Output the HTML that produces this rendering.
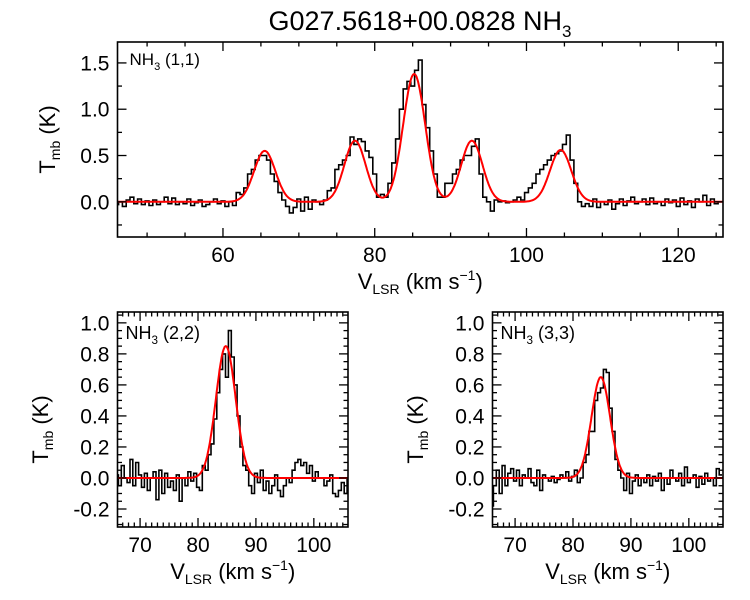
<!DOCTYPE html>
<html><head><meta charset="utf-8"><style>
body{margin:0;background:#fff;}
svg{display:block;font-family:"Liberation Sans",sans-serif;}
</style></head><body>
<svg id="chart" width="750" height="600" viewBox="0 0 750 600">
<text x="420" y="30" font-size="27" text-anchor="middle">G027.5618+00.0828 NH<tspan font-size="17" dy="7">3</tspan></text>
</svg>
<script>
// ---- Data ----
const topStart = 46.0, topStep = 0.5;
const topValues = [
-0.03,0.0,-0.05,0.02,0.05,-0.02,0.03,-0.03,0.01,-0.04,0.02,-0.03,0.0,0.05,-0.02,0.04,-0.03,0.0,-0.02,0.03,-0.04,-0.01,0.02,-0.05,-0.03,0.0,0.03,-0.02,0.01,-0.05,0.0,-0.04,
0.1,0.08,0.15,0.3,0.35,0.45,0.5,0.5,0.45,0.3,0.22,0.1,0.02,-0.05,-0.12,-0.06,
0.03,-0.1,0.05,-0.08,0.02,0.0,-0.03,0.02,
0.12,0.15,0.35,0.4,0.45,0.5,0.7,0.62,0.68,0.65,0.55,0.48,0.3,0.05,
0.08,0.05,0.2,0.42,0.68,1.0,1.22,1.3,1.25,1.42,1.53,1.05,0.8,0.55,0.3,0.05,
0.05,0.2,0.2,0.3,0.35,0.45,0.5,0.5,0.6,0.68,0.3,0.05,0.0,-0.1,
0.02,0.0,0.01,-0.01,0.0,0.02,0.05,0.02,0.1,0.15,0.2,0.3,
0.35,0.4,0.45,0.5,0.52,0.55,0.62,0.72,0.45,0.2,0.0,-0.05,
-0.02,-0.05,0.03,-0.06,0.0,-0.03,0.02,-0.08,-0.02,0.03,-0.04,0.01,0.05,-0.02,0.0,0.03,-0.03,0.04,-0.02,0.0,-0.04,0.03,-0.01,0.02,-0.05,0.04,-0.03,0.01,-0.06,0.03,0.0,0.07,-0.04,0.03,-0.02,0.0
];
const topFitCenters = [65.5, 77.4, 85.2, 92.8, 104.5];
const topFitAmps = [0.55, 0.66, 1.38, 0.66, 0.56];
const topFitSigmas = [1.4, 1.4, 1.45, 1.4, 1.4];

const midStart = 66.0, midStep = 0.5;
const midValues = [
0.02,-0.05,0.08,0.0,-0.03,0.12,-0.05,0.1,0.02,-0.06,0.03,-0.08,0.0,0.04,-0.14,0.05,-0.1,0.03,-0.06,-0.02,
-0.08,0.02,-0.15,0.0,-0.05,0.04,-0.02,0.03,-0.06,-0.08,0.08,0.05,0.15,0.22,0.38,0.55,0.7,0.8,0.65,0.95,0.78,0.6,0.4,
0.2,0.08,0.05,-0.05,-0.1,0.03,-0.03,0.05,-0.08,-0.02,-0.1,-0.05,0.02,-0.08,-0.12,-0.05,0.0,-0.03,0.05,0.1,
0.12,0.08,0.1,0.03,0.08,-0.02,0.04,0.0,0.0,-0.05,-0.02,0.02,-0.1,-0.12,-0.08,-0.03,-0.1,0.0
];
const midFitCenter = 84.8, midFitAmp = 0.85, midFitSigma = 1.7;

const rightStart = 66.0, rightStep = 0.5;
const rightValues = [
-0.18,-0.05,0.05,-0.1,0.08,-0.05,0.03,0.06,-0.02,0.05,-0.05,0.02,0.0,0.06,-0.03,-0.05,0.05,-0.08,0.02,0.0,
-0.02,0.01,-0.03,-0.01,0.02,0.0,0.04,-0.02,0.01,0.05,-0.03,0.0,0.1,0.15,0.3,0.3,0.5,0.55,0.58,0.7,0.68,0.45,0.3,
0.12,0.05,0.0,-0.08,0.03,-0.1,-0.02,0.02,-0.05,0.0,-0.03,0.02,-0.05,0.01,-0.02,0.03,-0.08,0.0,-0.04,0.05,
0.0,-0.02,0.03,-0.05,0.07,-0.03,0.0,0.02,-0.06,0.01,-0.04,0.03,-0.02,0.0,-0.05,0.06,0.02
];
const rightFitCenter = 84.8, rightFitAmp = 0.65, rightFitSigma = 1.6;

const yTicksTop = [0.0, 0.5, 1.0, 1.5];
const yTickLabelsTop = ["0.0","0.5","1.0","1.5"];
const xTicksTop = [60, 80, 100, 120];
const yTicksBot = [-0.2, 0.0, 0.2, 0.4, 0.6, 0.8, 1.0];
const yTickLabelsBot = ["-0.2","0.0","0.2","0.4","0.6","0.8","1.0"];
const xTicksBot = [70, 80, 90, 100];

// ---- Drawing ----
const svg = document.getElementById('chart');
const NS = 'http://www.w3.org/2000/svg';
function mk(tag, attrs, parent) {
  const e = document.createElementNS(NS, tag);
  for (const k in attrs) e.setAttribute(k, attrs[k]);
  (parent || svg).appendChild(e);
  return e;
}
function gaussSum(v, cs, as, ss) {
  let s = 0;
  for (let i = 0; i < cs.length; i++) s += as[i] * Math.exp(-0.5 * Math.pow((v - cs[i]) / ss[i], 2));
  return s;
}
function panel(p) {
  const g = mk('g', {});
  
  
  const sx = v => p.x0 + (v - p.xmin) / (p.xmax - p.xmin) * (p.x1 - p.x0);
  const sy = v => p.y1 - (v - p.ymin) / (p.ymax - p.ymin) * (p.y1 - p.y0);
  const cid = p.name + '-clip';
  const cp = mk('clipPath', {id: cid}, g);
  mk('rect', {x: p.x0, y: p.y0, width: p.x1 - p.x0, height: p.y1 - p.y0}, cp);
  let d = '';
  for (let i = 0; i < p.vals.length; i++) {
    const a = p.start + (i - 0.5) * p.step, b = a + p.step;
    const y = sy(p.vals[i]);
    d += (i === 0 ? 'M' : 'L') + sx(a).toFixed(1) + ',' + y.toFixed(1) + 'L' + sx(b).toFixed(1) + ',' + y.toFixed(1);
  }
  const h = mk('path', {d: d, fill: 'none', stroke: '#000', 'stroke-width': 1.6, 'clip-path': 'url(#' + cid + ')'}, g);
  
  
  let fd = '';
  for (let v = p.xmin, k = 0; v <= p.xmax + 1e-9; v += 0.1, k++) {
    fd += (k === 0 ? 'M' : 'L') + sx(v).toFixed(1) + ',' + sy(p.fit(v)).toFixed(1);
  }
  const f = mk('path', {d: fd, fill: 'none', stroke: '#f00', 'stroke-width': 2, 'clip-path': 'url(#' + cid + ')'}, g);
  
  
  const fr = mk('rect', {x: p.x0, y: p.y0, width: p.x1 - p.x0, height: p.y1 - p.y0, fill: 'none', stroke: '#000', 'stroke-width': 1.6}, g);
  
  
  const ticks = mk('g', {stroke: '#000', 'stroke-width': 1.3}, g);
  for (let v = Math.ceil(p.xmin / p.xminor) * p.xminor; v <= p.xmax; v += p.xminor) {
    const major = Math.abs(v / p.xmajor - Math.round(v / p.xmajor)) < 1e-6;
    const L = major ? 9 : 4.5;
    mk('line', {x1: sx(v), x2: sx(v), y1: p.y1, y2: p.y1 - L}, ticks);
    mk('line', {x1: sx(v), x2: sx(v), y1: p.y0, y2: p.y0 + L}, ticks);
  }
  for (let v = Math.ceil(p.ymin / p.yminor - 1e-6) * p.yminor; v <= p.ymax; v += p.yminor) {
    const major = Math.abs(v / p.ymajor - Math.round(v / p.ymajor)) < 1e-6;
    const L = major ? 9 : 4.5;
    mk('line', {x1: p.x0, x2: p.x0 + L, y1: sy(v), y2: sy(v)}, ticks);
    mk('line', {x1: p.x1, x2: p.x1 - L, y1: sy(v), y2: sy(v)}, ticks);
  }
  p.xt.forEach(v => {
    const t = mk('text', {x: sx(v), y: p.y1 + 25, 'font-size': 21, 'text-anchor': 'middle'}, g);
    t.textContent = String(v);
    
    
  });
  p.yt.forEach((v, i) => {
    const t = mk('text', {x: p.x0 - 8, y: sy(v) + 7.5, 'font-size': 21, 'text-anchor': 'end'}, g);
    t.textContent = p.ytl[i];
    
    
  });
  const xt = mk('text', {x: (p.x0 + p.x1) / 2, y: p.y1 + 52, 'font-size': 22, 'text-anchor': 'middle'}, g);
  xt.innerHTML = 'V<tspan font-size="14" dy="5">LSR</tspan><tspan dy="-5"> (km s</tspan><tspan font-size="14" dy="-9">−1</tspan><tspan dy="9">)</tspan>';
  
  
  const yt = mk('text', {x: 0, y: 0, 'font-size': 22, 'text-anchor': 'middle', transform: 'translate(' + p.ytx + ',' + ((p.y0 + p.y1) / 2 + p.ytdy) + ') rotate(-90)'}, g);
  yt.innerHTML = 'T<tspan font-size="14" dy="5">mb</tspan><tspan dy="-5"> (K)</tspan>';
  
  
  const lab = mk('text', {x: p.x0 + p.lx, y: p.y0 + p.ly, 'font-size': p.lfs, 'text-anchor': 'start'}, g);
  lab.innerHTML = 'NH<tspan font-size="' + (p.lfs * 0.65) + '" dy="5">3</tspan><tspan dy="-5"> ' + p.label + '</tspan>';
  
  
}
panel({name: 'nh3-11-panel', x0: 117.5, x1: 723, y0: 42, y1: 237, xmin: 46.1, xmax: 125.9, ymin: -0.38, ymax: 1.726,
  start: topStart, step: topStep, vals: topValues, fit: v => gaussSum(v, topFitCenters, topFitAmps, topFitSigmas),
  xminor: 5, xmajor: 20, yminor: 0.25, ymajor: 0.5, xt: xTicksTop, yt: yTicksTop, ytl: yTickLabelsTop,
  ytx: 55, ytdy: 0, lx: 12, ly: 23, lfs: 17, label: '(1,1)'});
panel({name: 'nh3-22-panel', x0: 117.5, x1: 348, y0: 312, y1: 527, xmin: 66.1, xmax: 105.9, ymin: -0.316, ymax: 1.07,
  start: midStart, step: midStep, vals: midValues, fit: v => gaussSum(v, [midFitCenter], [midFitAmp], [midFitSigma]),
  xminor: 1, xmajor: 10, yminor: 0.05, ymajor: 0.2, xt: xTicksBot, yt: yTicksBot, ytl: yTickLabelsBot,
  ytx: 48, ytdy: 10, lx: 8, ly: 27, lfs: 18, label: '(2,2)'});
panel({name: 'nh3-33-panel', x0: 492.5, x1: 723, y0: 312, y1: 527, xmin: 66.1, xmax: 105.9, ymin: -0.316, ymax: 1.07,
  start: rightStart, step: rightStep, vals: rightValues, fit: v => gaussSum(v, [rightFitCenter], [rightFitAmp], [rightFitSigma]),
  xminor: 1, xmajor: 10, yminor: 0.05, ymajor: 0.2, xt: xTicksBot, yt: yTicksBot, ytl: yTickLabelsBot,
  ytx: 423, ytdy: 10, lx: 8, ly: 27, lfs: 18, label: '(3,3)'});
</script>
</body></html>
